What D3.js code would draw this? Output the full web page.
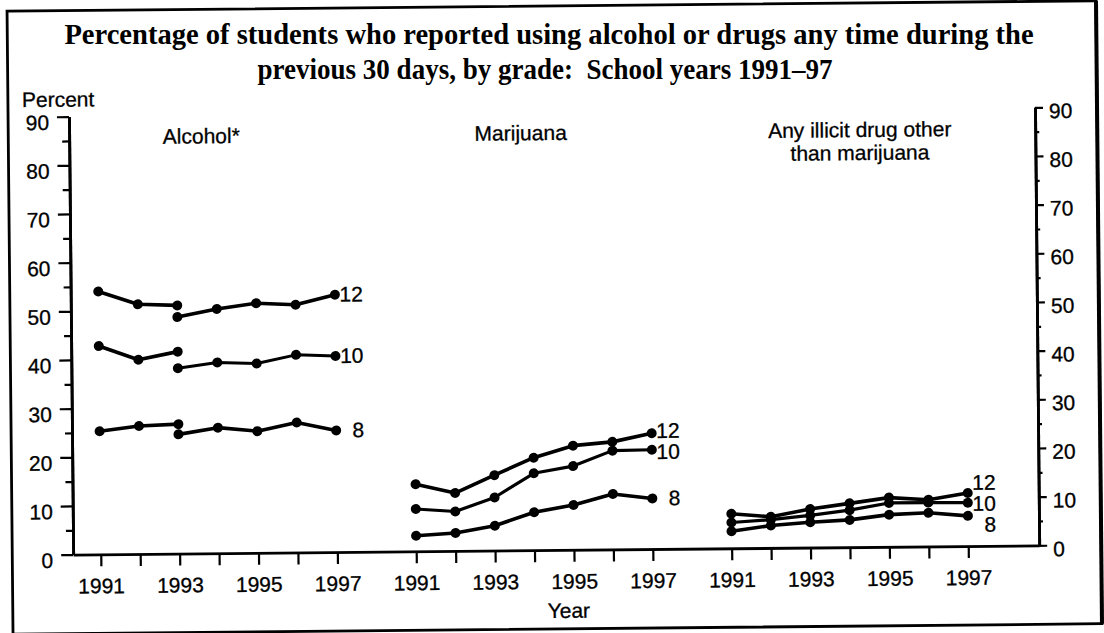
<!DOCTYPE html>
<html>
<head>
<meta charset="utf-8">
<script src="https://cdn.jsdelivr.net/npm/d3@7"></script>
<style>
  html, body { margin: 0; padding: 0; background: #fff; }
  svg { display: block; }
</style>
</head>
<body>
<div id="chart"></div>
<script>
// ---------------- data ----------------
const titleLines = [
  "Percentage of students who reported using alcohol or drugs any time during the",
  "previous 30 days, by grade:  School years 1991\u201397"
];
const yAxisTitle = "Percent";
const xAxisTitle = "Year";
const years = [1991, 1992, 1993, 1994, 1995, 1996, 1997];
const yearLabels = [1991, 1993, 1995, 1997];
const yMajorTicks = [0, 10, 20, 30, 40, 50, 60, 70, 80, 90];
const yMinorTicks = [5, 15, 25, 35, 45, 55, 65, 75, 85];
const gradeLabels = ["12", "10", "8"];
const panelTitles = [["Alcohol*"], ["Marijuana"], ["Any illicit drug other", "than marijuana"]];

// Alcohol: question changed in 1993, so two segments per grade
const alcoholYearsOld = [1991, 1992, 1993];
const alcoholYearsNew = [1993, 1994, 1995, 1996, 1997];
const alcohol12Old = [54.0, 51.3, 51.0];
const alcohol12New = [48.6, 50.2, 51.3, 50.9, 52.9];
const alcohol10Old = [42.8, 39.9, 41.5];
const alcohol10New = [38.1, 39.2, 38.9, 40.6, 40.3];
const alcohol8Old = [25.3, 26.3, 26.6];
const alcohol8New = [24.5, 25.8, 25.0, 26.7, 25.0];

const marijuana12 = [13.8, 11.9, 15.5, 19.0, 21.4, 22.1, 23.8];
const marijuana10 = [8.7, 8.1, 10.9, 15.8, 17.2, 20.3, 20.4];
const marijuana8 = [3.2, 3.7, 5.1, 7.8, 9.2, 11.4, 10.4];

const illicit12 = [7.1, 6.4, 7.9, 9.0, 10.1, 9.6, 10.9];
const illicit10 = [5.3, 5.8, 6.6, 7.6, 9.0, 9.0, 8.9];
const illicit8 = [3.5, 4.6, 5.2, 5.6, 6.6, 6.9, 6.2];

// ---------------- layout ----------------
const W = 1104, H = 633;
const sans = "'Liberation Sans', Arial, Helvetica, sans-serif";
const serif = "'Liberation Serif', 'Times New Roman', serif";
const panelOffset = [0, 8, 16];
const titleCenterSlot = [2.65, 2.75, 3.35];
const fs = 21;

const svg = d3.select("#chart").append("svg").attr("width", W).attr("height", H);
const root = svg.append("g").attr("transform", "rotate(-0.55, 552, 316)");

const x = d3.scaleLinear().domain([0, 22]).range([98.5, 966]);
const y = d3.scaleLinear().domain([0, 90]).range([550, 112]);
const axisLeftSlot = -0.7, axisRightSlot = 23.8;
const xLeft = x(axisLeftSlot), xRight = x(axisRightSlot);

function sansText(sel) {
  return sel.style("font-family", sans).style("font-size", fs + "px")
    .attr("fill", "#000").attr("stroke", "#000").attr("stroke-width", 0.3);
}

// frame
root.append("rect").attr("x", 10).attr("y", 6).attr("width", 1089).attr("height", 623)
  .attr("fill", "none").attr("stroke", "#000").attr("stroke-width", 2.8);
root.append("line").attr("x1", 1099).attr("x2", 1099).attr("y1", 6).attr("y2", 629)
  .attr("stroke", "#000").attr("stroke-width", 4);

// title (horizontally condensed serif, scaled to the reference width)
function titleLine(txt, cx, baseline, targetW) {
  const g = svg.append("g");
  const t = g.append("text").attr("x", 0).attr("y", 0).attr("text-anchor", "middle")
    .style("font-family", serif).style("font-weight", "bold").style("font-size", "29px")
    .style("white-space", "pre").text(txt);
  const w = t.node().getComputedTextLength();
  g.attr("transform", `translate(${cx},${baseline}) scale(${targetW / w},1)`);
}
titleLine(titleLines[0], 549, 44, 970);
titleLine(titleLines[1], 545, 79, 575);

// y axis title
root.append("text").attr("x", 24).attr("y", 102).text(yAxisTitle).call(sansText);

function styleAxis(g, domainW) {
  g.select(".domain").attr("stroke", "#000").attr("stroke-width", domainW);
  g.selectAll(".tick line").attr("stroke", "#000").attr("stroke-width", 2.2);
  g.selectAll(".tick text").call(sansText);
}

// left axis
const gL = root.append("g").attr("transform", `translate(${xLeft},0)`)
  .call(d3.axisLeft(y).tickValues(yMajorTicks).tickSize(12).tickSizeOuter(0).tickPadding(8).tickFormat(d3.format("d")));
styleAxis(gL, 2.8);
gL.selectAll(".tick text").attr("dy", "0.6em");
const gLm = root.append("g").attr("transform", `translate(${xLeft},0)`)
  .call(d3.axisLeft(y).tickValues(yMinorTicks).tickSize(7).tickSizeOuter(0).tickFormat(""));
styleAxis(gLm, 2.8);

// right axis
const gR = root.append("g").attr("transform", `translate(${xRight},0)`)
  .call(d3.axisRight(y).tickValues(yMajorTicks).tickSize(8).tickSizeOuter(0).tickPadding(6).tickFormat(d3.format("d")));
styleAxis(gR, 2.8);
gR.selectAll(".tick text").attr("dy", "0.5em");
const gRm = root.append("g").attr("transform", `translate(${xRight},0)`)
  .call(d3.axisRight(y).tickValues(yMinorTicks).tickSize(4).tickSizeOuter(0).tickFormat(""));
styleAxis(gRm, 2.8);

// bottom axis
const xAxisScale = x.copy().domain([axisLeftSlot, axisRightSlot]).range([xLeft, xRight]);
const tickSlots = [];
const tickYear = new Map();
panelOffset.forEach(off => years.forEach((yr, i) => { tickSlots.push(off + i); tickYear.set(off + i, yr); }));
const gB = root.append("g").attr("transform", `translate(0,${y(0)})`)
  .call(d3.axisBottom(xAxisScale).tickValues(tickSlots).tickSize(12).tickSizeOuter(0).tickPadding(12)
    .tickFormat(s => yearLabels.includes(tickYear.get(s)) ? String(tickYear.get(s)) : ""));
styleAxis(gB, 2.8);

root.append("text").attr("x", 566).attr("y", 618).attr("text-anchor", "middle").text(xAxisTitle).call(sansText);

// panel titles
panelTitles.forEach((lines, p) => {
  lines.forEach((ln, k) => {
    root.append("text").attr("x", x(panelOffset[p] + titleCenterSlot[p])).attr("y", 140 + k * 23)
      .attr("text-anchor", "middle").text(ln).call(sansText);
  });
});

// series
const line = d3.line().x(d => x(d.slot)).y(d => y(d.v));
function mk(yrs, vals, off) { return yrs.map((yr, i) => ({ slot: off + (yr - years[0]), v: vals[i] })); }

const segments = [
  { pts: mk(alcoholYearsOld, alcohol12Old, 0), w: 3.6 },
  { pts: mk(alcoholYearsNew, alcohol12New, 0), w: 3.6 },
  { pts: mk(alcoholYearsOld, alcohol10Old, 0), w: 3.6 },
  { pts: mk(alcoholYearsNew, alcohol10New, 0), w: 3.0 },
  { pts: mk(alcoholYearsOld, alcohol8Old, 0), w: 3.6 },
  { pts: mk(alcoholYearsNew, alcohol8New, 0), w: 3.6 },
  { pts: mk(years, marijuana12, 8), w: 3.6 },
  { pts: mk(years, marijuana10, 8), w: 3.2 },
  { pts: mk(years, marijuana8, 8), w: 3.6 },
  { pts: mk(years, illicit12, 16), w: 3.6 },
  { pts: mk(years, illicit10, 16), w: 3.2 },
  { pts: mk(years, illicit8, 16), w: 3.6 }
];
const gS = root.append("g");
segments.forEach(s => {
  gS.append("path").attr("d", line(s.pts)).attr("fill", "none").attr("stroke", "#000")
    .attr("stroke-width", s.w).attr("stroke-linejoin", "round").attr("stroke-linecap", "round");
  gS.selectAll(null).data(s.pts).join("circle")
    .attr("cx", d => x(d.slot)).attr("cy", d => y(d.v)).attr("r", 5).attr("fill", "#000");
});

// grade labels at the end of each panel, spread apart so they do not collide
const lastVals = [
  [alcohol12New[4], alcohol10New[4], alcohol8New[4]],
  [marijuana12[6], marijuana10[6], marijuana8[6]],
  [illicit12[6], illicit10[6], illicit8[6]]
];
lastVals.forEach((vals, p) => {
  let ys = vals.map(v => y(v));
  const minGap = 21;
  for (let it = 0; it < 30; it++) {
    for (let i = 0; i < ys.length - 1; i++) {
      const gap = ys[i + 1] - ys[i];
      if (gap < minGap) { const d = (minGap - gap) / 2; ys[i] -= d; ys[i + 1] += d; }
    }
  }
  ys.forEach((yy, i) => {
    root.append("text").attr("x", x(panelOffset[p] + 6) + 28).attr("y", yy + 7)
      .attr("text-anchor", "end").text(gradeLabels[i]).call(sansText);
  });
});
</script>
</body>
</html>
